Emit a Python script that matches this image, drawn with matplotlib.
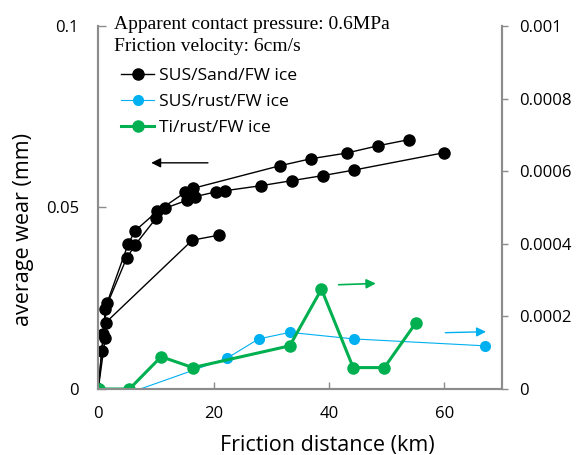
import matplotlib
matplotlib.use("Agg")
import matplotlib.pyplot as plt

# SUS/Sand/FW ice, three runs (left axis, mm)
sand_a_x = [0, 0.6, 1.5, 5.2, 6.4, 10.2, 15.1, 16.5, 31.5, 36.8, 43.1, 48.5, 53.9]
sand_a_y = [0, 0.0105, 0.0236, 0.040, 0.0436, 0.0489, 0.0542, 0.0553,
            0.0615, 0.0634, 0.065, 0.067, 0.0687]
sand_b_x = [0, 0.9, 1.2, 4.9, 6.4, 10.0, 11.6, 15.4, 16.8, 20.4, 21.9,
            28.2, 33.6, 39.0, 44.3, 60.0]
sand_b_y = [0, 0.0152, 0.022, 0.036, 0.0397, 0.047, 0.0498, 0.052, 0.053,
            0.0543, 0.0546, 0.056, 0.0574, 0.0588, 0.0603, 0.0651]
sand_c_x = [0, 1.2, 1.3, 16.3, 21.0]
sand_c_y = [0, 0.014, 0.0183, 0.041, 0.0424]

# SUS/rust/FW ice (right axis, mm)
rust_x = [5.5, 22.3, 27.8, 33.2, 44.3, 67.0]
rust_y = [-0.00001, 0.0000846, 0.000138, 0.000156, 0.000138, 0.000119]

# Ti/rust/FW ice (right axis, mm)
ti_x = [0.2, 5.4, 10.9, 16.4, 33.2, 38.7, 44.2, 49.6, 55.1]
ti_y = [0, 0, 0.000089, 0.000059, 0.000119, 0.000275, 0.000059, 0.000059, 0.000183]

left_ticks = [0, 0.05, 0.1]
left_labels = ["0", "0.05", "0.1"]
right_ticks = [0, 0.0002, 0.0004, 0.0006, 0.0008, 0.001]
right_labels = ["0", "0.0002", "0.0004", "0.0006", "0.0008", "0.001"]
x_ticks = [0, 20, 40, 60]

gray = "#8c8c8c"
blue = "#00b0f0"
green = "#00b050"
sans = ["Open Sans", "DejaVu Sans"]

fig = plt.figure(figsize=(5.78, 4.55), dpi=100)
ax = fig.add_axes([0.170, 0.145, 0.6985, 0.798])
ax2 = ax.twinx()

# black runs
ax.plot(sand_a_x, sand_a_y, "-o", color="black", lw=1.0, ms=8,
        label="SUS/Sand/FW ice", zorder=3)
ax.plot(sand_b_x, sand_b_y, "-o", color="black", lw=1.0, ms=8, zorder=3)
ax.plot(sand_c_x, sand_c_y, "-o", color="black", lw=1.0, ms=8, zorder=3)

# right axis series
ax2.plot(rust_x, rust_y, "-o", color=blue, lw=0.8, ms=7,
         label="SUS/rust/FW ice")
ax2.plot(ti_x, ti_y, "-o", color=green, lw=2.2, ms=8,
         label="Ti/rust/FW ice")

# direction arrows
ax.annotate("", xy=(8.7, 0.0623), xytext=(19.5, 0.0623),
            arrowprops=dict(arrowstyle="-|>", color="black", lw=1.0,
                            mutation_scale=14))
ax2.annotate("", xy=(48.6, 0.000291), xytext=(41.2, 0.000287),
             arrowprops=dict(arrowstyle="-|>", color=green, lw=1.2,
                             mutation_scale=14))
ax2.annotate("", xy=(67.7, 0.000158), xytext=(59.7, 0.000155),
             arrowprops=dict(arrowstyle="-|>", color=blue, lw=1.0,
                             mutation_scale=14))

ax.set_xlim(0, 70)
ax.set_ylim(0, 0.1)
ax2.set_ylim(0, 0.001)
ax.set_xticks(x_ticks)
ax.set_xticklabels([str(t) for t in x_ticks], fontfamily=sans, fontsize=12)
ax.set_yticks(left_ticks)
ax.set_yticklabels(left_labels, fontfamily=sans, fontsize=12)
ax2.set_yticks(right_ticks)
ax2.set_yticklabels(right_labels, fontfamily=sans, fontsize=12)

ax.tick_params(axis="x", direction="in", length=5, color=gray, width=1, pad=12)
ax.tick_params(axis="y", direction="in", length=6, color=gray, width=1, pad=14)
ax2.tick_params(axis="y", direction="out", length=4, color=gray, width=1, pad=8)

for a in (ax, ax2):
    a.spines["top"].set_visible(False)
    for s in ("left", "right", "bottom"):
        a.spines[s].set_color(gray)
        a.spines[s].set_linewidth(1.5)

ax.set_xlabel("Friction distance (km)", fontfamily=sans, fontsize=15.5,
              va="center")
ax.xaxis.set_label_coords(0.567, -0.155)
ax.set_ylabel("average wear (mm)", fontfamily=sans, fontsize=15.5,
              va="center")
ax.yaxis.set_label_coords(-0.186, 0.438)

fig.text(0.197, 0.946, "Apparent contact pressure: 0.6MPa",
         family="Liberation Serif", fontsize=14, va="center")
fig.text(0.197, 0.898, "Friction velocity: 6cm/s",
         family="Liberation Serif", fontsize=14, va="center")

h1, l1 = ax.get_legend_handles_labels()
h2, l2 = ax2.get_legend_handles_labels()
leg = fig.legend(h1 + h2, l1 + l2, loc="upper left",
                 bbox_to_anchor=(0.194, 0.871), frameon=False,
                 prop={"family": sans, "size": 12.6}, handlelength=1.9,
                 handletextpad=0.3, labelspacing=0.58, borderpad=0)

fig.savefig("out.png", dpi=100)
